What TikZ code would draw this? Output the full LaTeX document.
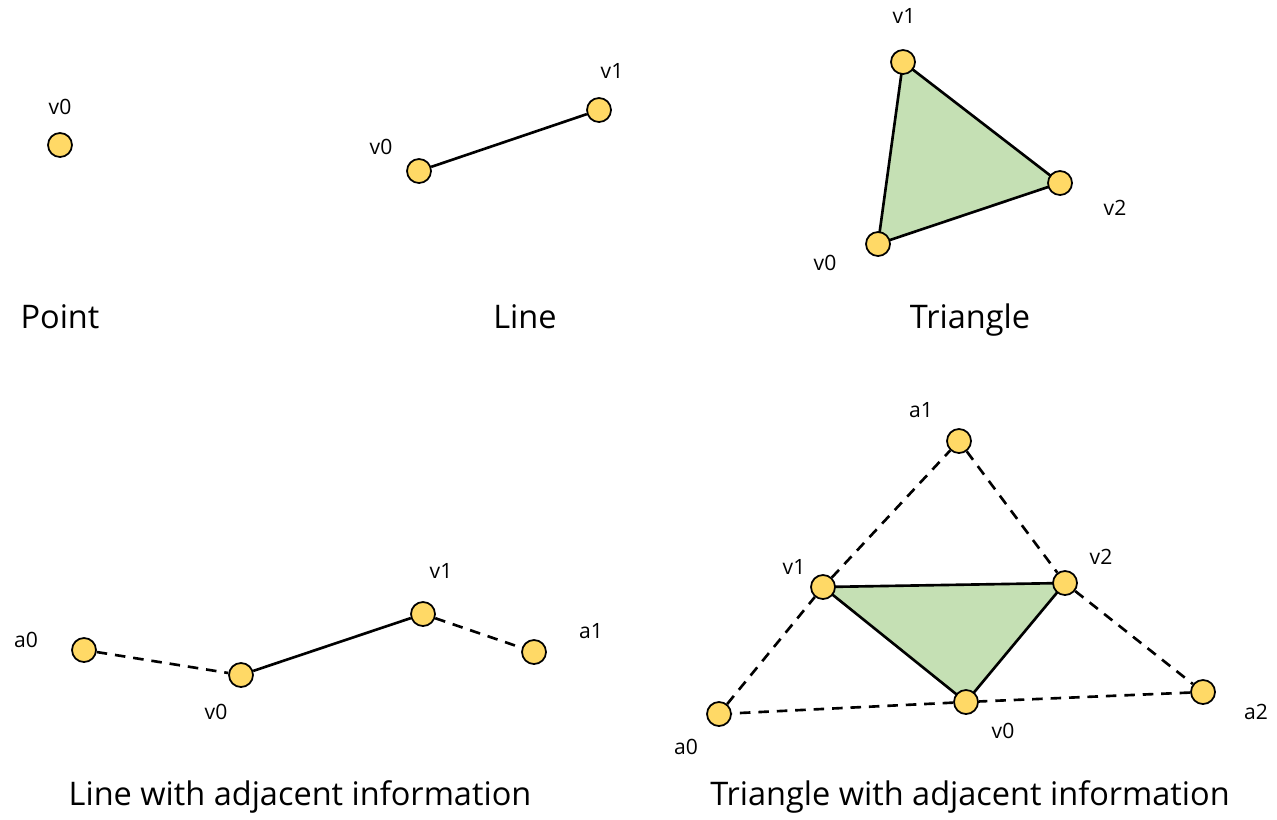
\documentclass[tikz,border=0pt]{standalone}
\usepackage{fontspec}
\setmainfont{Open Sans}
\usetikzlibrary{backgrounds}
\definecolor{vertfill}{HTML}{FFD966}
\definecolor{trifill}{HTML}{C5E0B4}
\tikzset{
  vert/.style={circle,draw=black,line width=1pt,fill=vertfill,minimum size=0.48cm,inner sep=0pt},
  lbl/.style={font=\fontsize{12}{14}\selectfont,inner sep=0pt},
  title/.style={font=\fontsize{18.5}{22}\selectfont,inner sep=0pt,anchor=base},
  edge/.style={line width=1.5pt},
  adj/.style={line width=1.5pt,dash pattern=on 6pt off 4.5pt},
}
\begin{document}
\begin{tikzpicture}[x=0.02cm,y=-0.02cm]
  \useasboundingbox (0,0) rectangle (1277,819);
  % point
  \node[vert] (p0) at (60,145) {};
  \node[lbl] (p0l) at (60,107) {v0};
  \node[title] (tp) at (60,328) {Point};
  % line
  \node[vert] (l0) at (419,171) {};
  \node[vert] (l1) at (599,110) {};
  \node[lbl] (l0l) at (381,147) {v0};
  \node[lbl] (l1l) at (612,71) {v1};
  \draw[edge] (l0) -- (l1);
  \node[title] (tl) at (525,328) {Line};
  % triangle
  \node[vert] (t0) at (878,244) {};
  \node[vert] (t1) at (903,62) {};
  \node[vert] (t2) at (1060,183) {};
  \node[lbl] (t0l) at (825,263) {v0};
  \node[lbl] (t1l) at (904,16) {v1};
  \node[lbl] (t2l) at (1115,208) {v2};
  \begin{scope}[on background layer]
    \fill[trifill] (t0.center) -- (t1.center) -- (t2.center) -- cycle;
    \draw[edge] (t0.center) -- (t1.center) -- (t2.center) -- cycle;
  \end{scope}
  \node[title] (tt) at (970,328) {Triangle};
  % line with adjacent information
  \node[vert] (la0) at (84,650) {};
  \node[vert] (lv0) at (241,675) {};
  \node[vert] (lv1) at (423,614) {};
  \node[vert] (la1) at (534,652) {};
  \node[lbl] (la0l) at (26,640) {a0};
  \node[lbl] (lv0l) at (216,712) {v0};
  \node[lbl] (lv1l) at (441,571) {v1};
  \node[lbl] (la1l) at (591,631) {a1};
  \draw[adj] (la0) -- (lv0);
  \draw[edge] (lv0) -- (lv1);
  \draw[adj] (lv1) -- (la1);
  \node[title] (tla) at (300,805) {Line with adjacent information};
  % triangle with adjacent information
  \node[vert] (ta0) at (719,714) {};
  \node[vert] (ta1) at (959,441) {};
  \node[vert] (ta2) at (1203,692) {};
  \node[vert] (tv0) at (966,702) {};
  \node[vert] (tv1) at (823,587) {};
  \node[vert] (tv2) at (1065,583) {};
  \node[lbl] (ta0l) at (686,747) {a0};
  \node[lbl] (ta1l) at (921,410) {a1};
  \node[lbl] (ta2l) at (1256,712) {a2};
  \node[lbl] (tv0l) at (1003,731) {v0};
  \node[lbl] (tv1l) at (794,567) {v1};
  \node[lbl] (tv2l) at (1101,557) {v2};
  \begin{scope}[on background layer]
    \fill[trifill] (tv0.center) -- (tv1.center) -- (tv2.center) -- cycle;
    \draw[edge] (tv0.center) -- (tv1.center) -- (tv2.center) -- cycle;
  \end{scope}
  \draw[adj] (ta0) -- (tv1);
  \draw[adj] (tv1) -- (ta1);
  \draw[adj] (ta1) -- (tv2);
  \draw[adj] (tv2) -- (ta2);
  \draw[adj] (ta2) -- (tv0);
  \draw[adj] (tv0) -- (ta0);
  \node[title] (tta) at (970,805) {Triangle with adjacent information};
\end{tikzpicture}
\end{document}
